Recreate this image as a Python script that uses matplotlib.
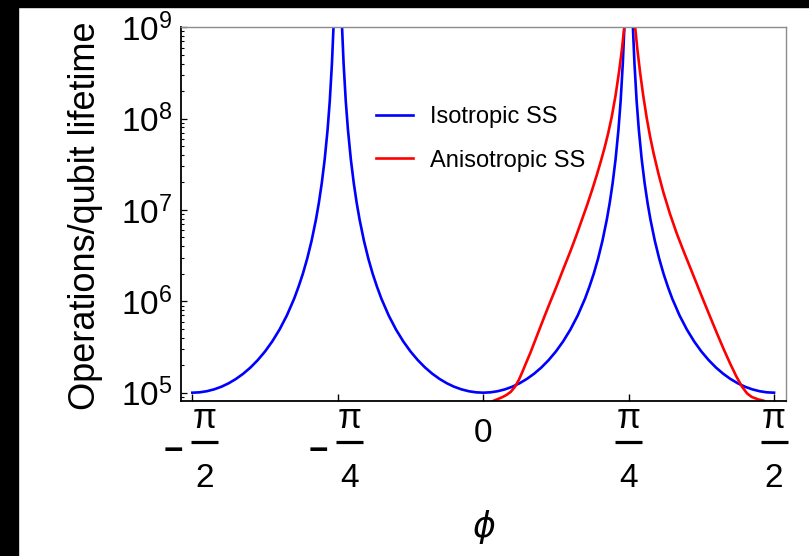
import numpy as np
import matplotlib
matplotlib.use("Agg")
import matplotlib.pyplot as plt
from matplotlib.patches import Rectangle
from matplotlib.lines import Line2D
from matplotlib.ticker import FixedLocator, LogLocator, NullFormatter, FixedFormatter

plt.rcParams["font.family"] = ["Liberation Sans", "DejaVu Sans"]
plt.rcParams["mathtext.fontset"] = "custom"
plt.rcParams["mathtext.rm"] = "Liberation Sans"
plt.rcParams["mathtext.it"] = "Liberation Sans:italic"
plt.rcParams["mathtext.sf"] = "Liberation Sans"

# Isotropic SS: one quarter period, offset from a minimum (units of pi/4)
iso_offset = [0.0, 0.05, 0.1, 0.15, 0.2, 0.25, 0.3, 0.35, 0.4, 0.45, 0.5,
              0.55, 0.6, 0.65, 0.7, 0.73, 0.76, 0.79, 0.82, 0.85, 0.87,
              0.89, 0.91, 0.93, 0.945, 0.96, 0.97, 0.98, 0.99]
iso_value = [1.000e5, 1.009e5, 1.038e5, 1.088e5, 1.162e5, 1.268e5, 1.414e5,
             1.613e5, 1.888e5, 2.275e5, 2.828e5, 3.651e5, 4.925e5, 7.01e5,
             1.069e6, 1.441e6, 2.005e6, 2.943e6, 4.605e6, 7.86e6, 1.199e7,
             1.968e7, 3.574e7, 7.57e7, 1.556e8, 4.04e8, 9.56e8, 3.23e9,
             2.58e10]

# Anisotropic SS (phi in units of pi/4)
aniso_phi = [0.070, 0.100, 0.130, 0.160, 0.190, 0.219, 0.245, 0.270, 0.296,
             0.323, 0.370, 0.420, 0.460, 0.506, 0.550, 0.600, 0.640, 0.678,
             0.715, 0.750, 0.781, 0.811, 0.835, 0.860, 0.884, 0.910, 0.935,
             0.955, 0.969, 0.990,
             1.020, 1.045, 1.060, 1.079, 1.100, 1.125, 1.148, 1.171, 1.205,
             1.239, 1.285, 1.331, 1.377, 1.423, 1.468, 1.514, 1.560, 1.607,
             1.652, 1.698, 1.740, 1.779, 1.815, 1.847, 1.890, 1.927]
aniso_value = [8.13e4, 8.51e4, 8.91e4, 9.44e4, 1.023e5, 1.164e5, 1.380e5,
               1.698e5, 2.138e5, 2.698e5, 4.217e5, 6.761e5, 9.772e5,
               1.479e6, 2.239e6, 3.548e6, 5.248e6, 7.762e6, 1.140e7,
               1.679e7, 2.415e7, 3.508e7, 4.831e7, 6.982e7, 1.052e8,
               1.791e8, 3.334e8, 5.957e8, 9.66e8, 6.31e9,
               6.31e9, 1.0e9, 5.754e8, 3.192e8, 1.803e8, 1.002e8, 6.310e7,
               4.217e7, 2.495e7, 1.560e7, 8.995e6, 5.521e6, 3.573e6,
               2.350e6, 1.560e6, 1.026e6, 6.792e5, 4.477e5, 3.034e5,
               2.084e5, 1.514e5, 1.167e5, 9.795e4, 8.974e4, 8.453e4, 8.166e4]

# x ticks in units of pi/4: (sign, numerator, denominator)
x_ticks = [-2, -1, 0, 1, 2]
x_tick_parts = [("−", "π", "2"), ("−", "π", "4"), ("", "0", ""),
                ("", "π", "4"), ("", "π", "2")]
y_ticks = [1e5, 1e6, 1e7, 1e8, 1e9]
y_tick_labels = [r"$\mathregular{10^{5}}$", r"$\mathregular{10^{6}}$",
                 r"$\mathregular{10^{7}}$", r"$\mathregular{10^{8}}$",
                 r"$\mathregular{10^{9}}$"]

q = np.pi / 4
d = np.array(iso_offset)
v = np.array(iso_value)
# four mirrored branches between -pi/2 and pi/2
iso_x = np.concatenate([-2 + d, -d[::-1][:-1], d, 2 - d[::-1]]) * q
iso_y = np.concatenate([v, v[::-1][:-1], v, v[::-1]])

W, H = 809, 556
fig = plt.figure(figsize=(W / 100, H / 100), dpi=100)
ax = fig.add_axes([180.7 / W, 1 - 401 / H, (785.7 - 180.7) / W, (401 - 27.3) / H])

ax.plot(iso_x, iso_y, color="#0000ff", lw=1.9, label="Isotropic SS",
        solid_joinstyle="round")
ax.plot(np.array(aniso_phi) * q, aniso_value, color="#ff0000", lw=1.9,
        label="Anisotropic SS", solid_joinstyle="round")

ax.set_yscale("log")
ax.set_xlim(-2.08 * q, 2.08 * q)
ax.set_ylim(10 ** 4.909, 1e9)

ax.xaxis.set_major_locator(FixedLocator([t * q for t in x_ticks]))
ax.xaxis.set_major_formatter(NullFormatter())
ax.yaxis.set_major_locator(FixedLocator(y_ticks))
ax.yaxis.set_major_formatter(FixedFormatter(y_tick_labels))
ax.yaxis.set_minor_locator(LogLocator(base=10, subs=np.arange(2, 10)))
ax.yaxis.set_minor_formatter(NullFormatter())

ax.tick_params(axis="x", which="major", direction="in", length=5, width=1.0,
               top=False, colors="black")
ax.tick_params(axis="x", which="minor", bottom=False, top=False)
ax.tick_params(axis="y", which="major", direction="in", length=4.5, width=0.9,
               right=False, labelsize=24, pad=6)
ax.tick_params(axis="y", which="minor", direction="in", length=2.5, width=0.8,
               right=False)

for side in ("left", "bottom"):
    ax.spines[side].set_color("black")
    ax.spines[side].set_linewidth(1.3)
for side in ("top", "right"):
    ax.spines[side].set_color("#8c8c8c")
    ax.spines[side].set_linewidth(1.0)

# stacked-fraction tick labels under the x axis (pixel offsets from each tick)
def fy(py):
    return 1 - py / H

for t, (sign, num, den) in zip(x_ticks, x_tick_parts):
    px = ax.transData.transform((t * q, 1e5))[0]
    if not den:
        fig.text(px / W, fy(442), num, ha="center", va="baseline", fontsize=24)
        continue
    cx = px + (12 if sign else 0)
    if sign:
        fig.text((px - 19) / W, fy(460), sign, ha="center", va="baseline",
                 fontsize=24, fontweight="bold")
    fig.text(cx / W, fy(428), num, ha="center", va="baseline", fontsize=25)
    fig.add_artist(Line2D([(cx - 13.5) / W, (cx + 13.5) / W], [fy(442), fy(442)],
                          transform=fig.transFigure, color="black", lw=2.3,
                          solid_capstyle="butt"))
    fig.text(cx / W, fy(487), den, ha="center", va="baseline", fontsize=24)

leg = ax.legend(loc="upper left", bbox_to_anchor=(376 / W, 1 - 106 / H),
                bbox_transform=fig.transFigure, frameon=False, fontsize=17,
                handlelength=1.55, handletextpad=0.72, labelspacing=0.92,
                borderpad=0, borderaxespad=0)

fig.text(86 / W, 1 - 216 / H, "Operations/qubit lifetime", rotation=90,
         ha="center", va="center", fontsize=26)
fig.text(483 / W, 1 - 527 / H, "ϕ", ha="center", va="center", fontsize=25,
         style="italic", family=["DejaVu Sans"])

# black frame strips along the left and top edges
fig.add_artist(Rectangle((0, 0), 18 / W, 1, transform=fig.transFigure,
                         color="black", zorder=10))
fig.add_artist(Rectangle((0, 1 - 7 / H), 1, 7 / H, transform=fig.transFigure,
                         color="black", zorder=10))

fig.savefig("out.png", dpi=100)
